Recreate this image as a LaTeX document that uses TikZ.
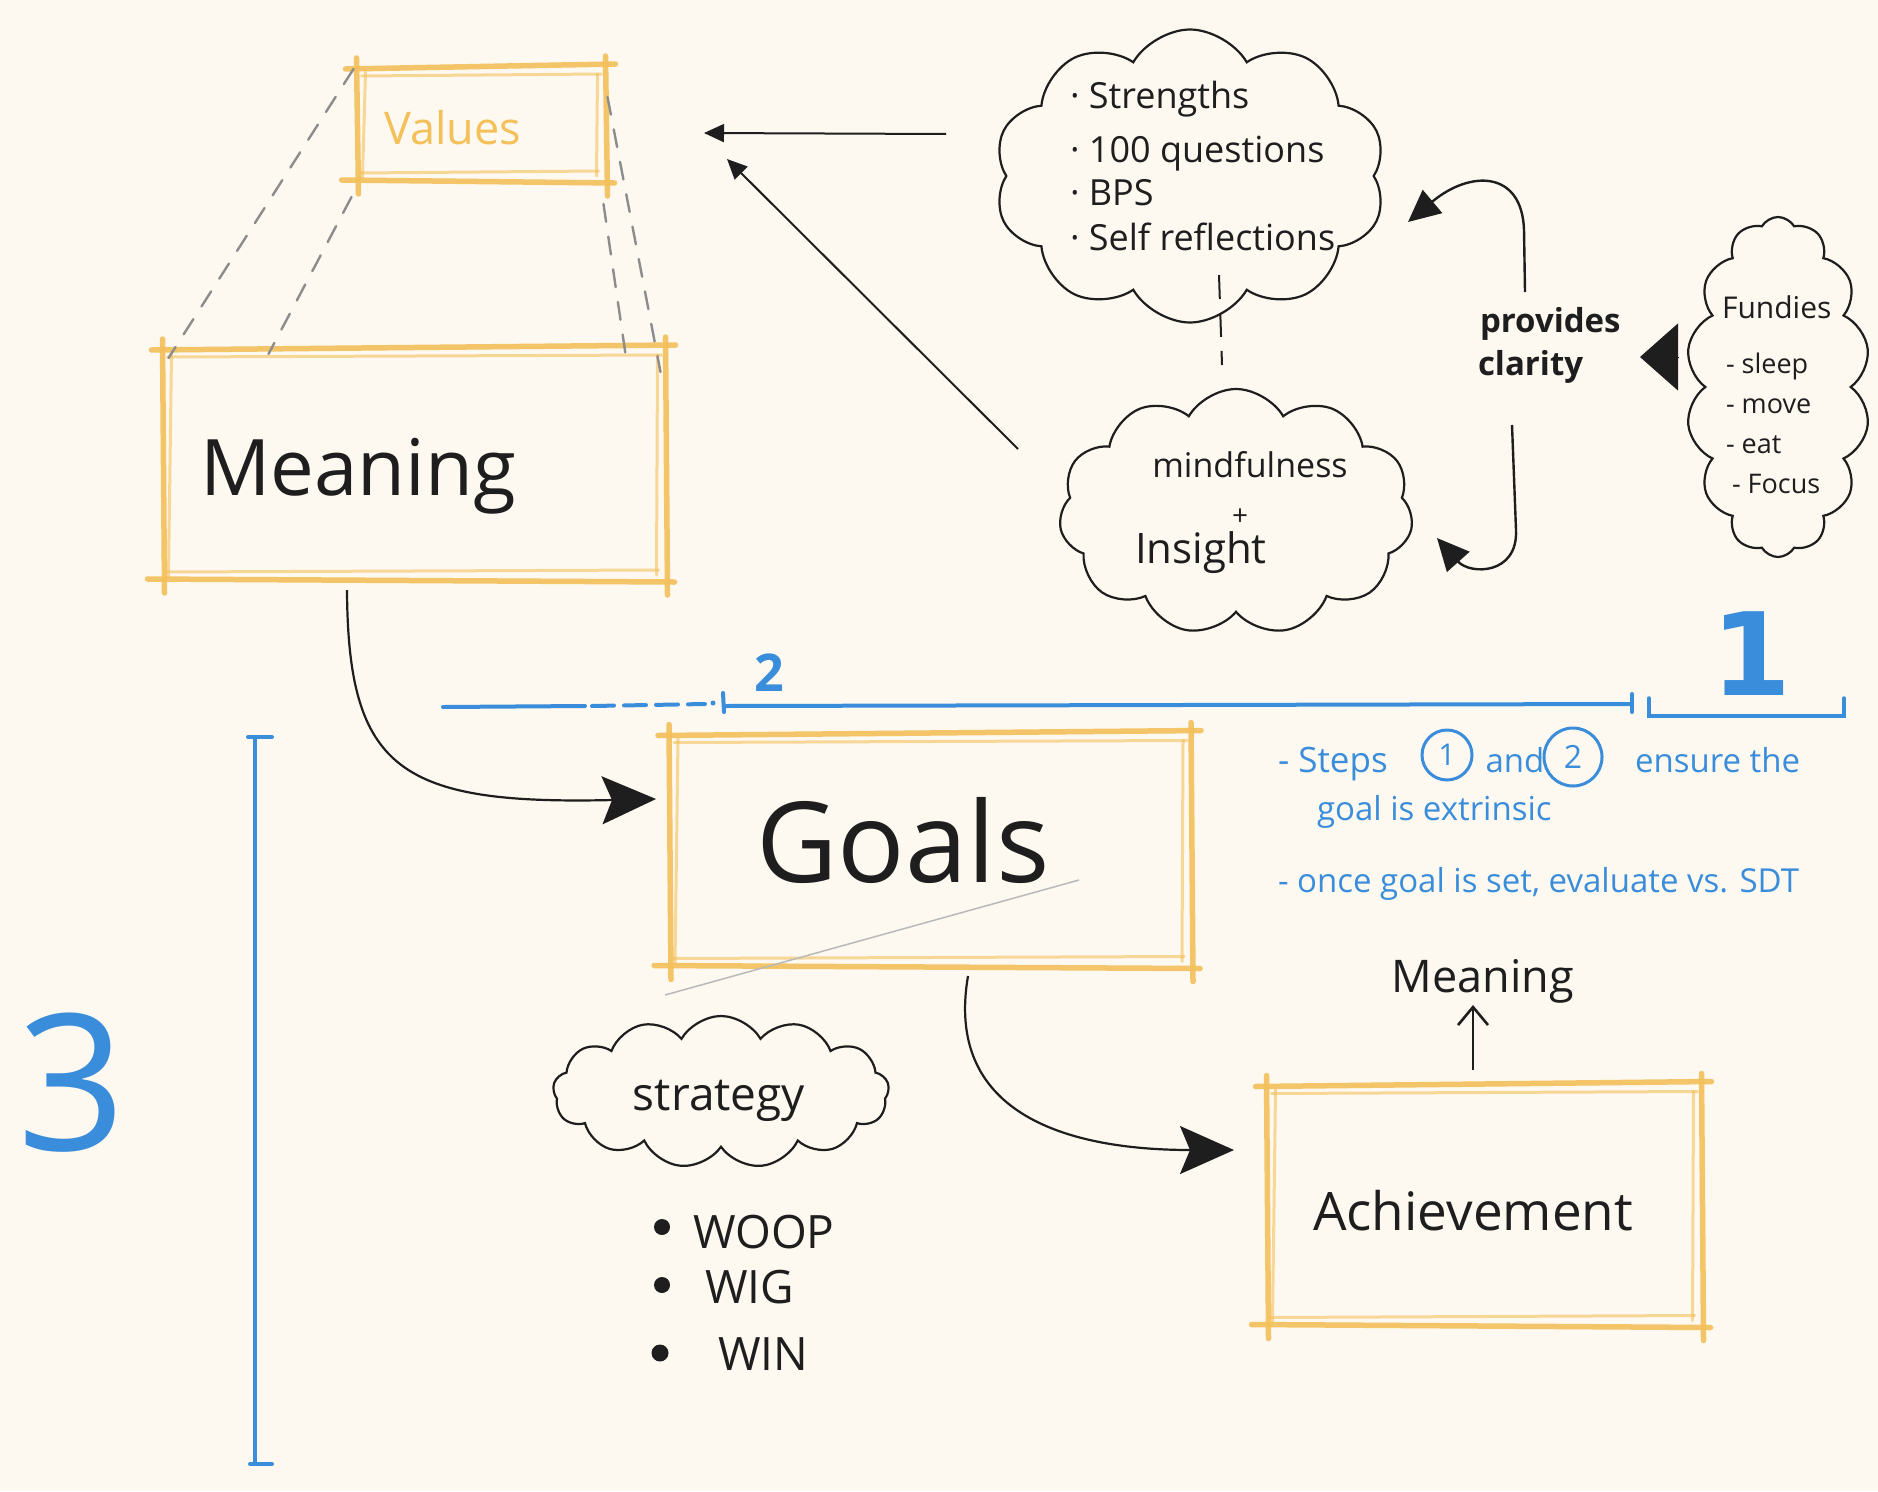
\documentclass[tikz,border=0pt]{standalone}
\usepackage{fontspec}
\setmainfont{Open Sans}
\newfontfamily\dejavu{DejaVu Sans}
\usetikzlibrary{shapes.symbols,arrows.meta,calc}
\definecolor{bg}{HTML}{FDF9F0}
\definecolor{ink}{HTML}{1E1E1E}
\definecolor{sketchy}{HTML}{F3C05A}
\definecolor{penblue}{HTML}{3A8DDB}
\definecolor{guide}{HTML}{8C8C8C}
\newcommand\fsz[2]{\fontsize{#1}{#2}\selectfont}
\newcommand\sketchframe[1]{%
 \draw[skA] ($(#1.north west)+(-10,3)$) -- ($(#1.north east)+(9,-2)$);
 \draw[skB] ($(#1.north west)+(6,10)$) -- ($(#1.north east)+(-5,8)$);
 \draw[skA] ($(#1.south west)+(-14,-2)$) -- ($(#1.south east)+(8,1)$);
 \draw[skB] ($(#1.south west)+(4,-9)$) -- ($(#1.south east)+(-8,-11)$);
 \draw[skA] ($(#1.north west)+(1,-8)$) -- ($(#1.south west)+(3,12)$);
 \draw[skB] ($(#1.north west)+(10,6)$) -- ($(#1.south west)+(7,-4)$);
 \draw[skA] ($(#1.north east)+(-1,-10)$) -- ($(#1.south east)+(1,14)$);
 \draw[skB] ($(#1.north east)+(-9,8)$) -- ($(#1.south east)+(-10,-6)$);
}
\tikzset{
 every node/.style={inner sep=0pt, outer sep=0pt},
 boxnode/.style={draw=none, rectangle},
 skA/.style={draw=sketchy, line width=5.5pt, line cap=round, opacity=0.9},
 skB/.style={draw=sketchy, line width=3pt, line cap=round, opacity=0.6},
 thought/.style={cloud, cloud ignores aspect, cloud puff arc=120, draw=ink, line width=2.2pt},
 hand/.style={text=ink},
 bluehand/.style={text=penblue},
 guideline/.style={draw=guide, line width=2.4pt, dash pattern=on 18pt off 15pt, line cap=round},
 thinarr/.style={draw=ink, line width=2pt, -{Triangle[length=20pt,width=18pt]}},
 bigarr/.style={draw=ink, line width=2.2pt, -{Stealth[length=54pt,width=48pt,inset=10pt]}},
 midarr/.style={draw=ink, line width=2.4pt, -{Triangle[length=32pt,width=30pt]}},
 bigtri/.style={draw=ink, line width=1pt, -{Triangle[length=38pt,width=67pt]}},
 uparr/.style={draw=ink, line width=2.6pt, -{Straight Barb[length=18pt,width=30pt]}},
 blueline/.style={draw=penblue, line width=4pt, line cap=round},
 bluecirc/.style={circle, draw=penblue, line width=3pt, text=penblue},
}
\begin{document}
\begin{tikzpicture}[x=1pt,y=-1pt]
\fill[bg] (0,0) rectangle (1878,1491);
\useasboundingbox (0,0) rectangle (1878,1491);

% ---- boxes ----
\node[boxnode, minimum width=251pt, minimum height=116pt] (values) at (481,124) {};
\node[boxnode, minimum width=505pt, minimum height=234pt] (meaningbox) at (414,464) {};
\node[boxnode, minimum width=524pt, minimum height=235pt] (goals) at (930,850) {};
\node[boxnode, minimum width=437pt, minimum height=243pt] (achieve) at (1484,1205) {};
\sketchframe{values}
\sketchframe{meaningbox}
\sketchframe{goals}
\sketchframe{achieve}

\node[text=sketchy, anchor=base, font=\fsz{45}{54}] (valuestxt) at (453,144) {Values};
\node[hand, anchor=base, font=\fsz{78}{90}] (meaningtxt) at (358,495) {Meaning};
\node[hand, anchor=base, font=\fsz{112}{130}] (goalstxt) at (903,882) {Goals};
\node[hand, anchor=base, font=\fsz{53}{64}] (achievetxt) at (1473,1230) {Achievement};
\node[hand, anchor=base, font=\fsz{45}{54}] (meaningsmall) at (1483,992) {Meaning};

% ---- guide lines Values -> Meaning ----
\draw[guideline] ($(values.north west)+(-2,3)$) -- ($(meaningbox.north west)+(7,11)$);
\draw[guideline] ($(values.south west)+(-4,15)$) -- ($(meaningbox.north west)+(107,7)$);
\draw[guideline] ($(values.south east)+(-3,22)$) -- ($(meaningbox.north east)+(-41,7)$);
\draw[guideline] ($(values.north east)+(1,31)$) -- ($(meaningbox.north east)+(-6,25)$);

% ---- clouds ----
\node[thought, cloud puffs=10, minimum width=392pt, minimum height=293pt] (strengths) at (1190,176) {};
\node[thought, cloud puffs=11, minimum width=354pt, minimum height=246pt] (mind) at (1236,512) {};
\node[thought, cloud puffs=14, minimum width=184pt, minimum height=340pt] (fundies) at (1778,387) {};
\node[thought, cloud puffs=13, minimum width=336pt, minimum height=152pt] (strategy) at (721,1092) {};

\node[hand, anchor=base west, font=\fsz{36}{44}] (s1) at (1070,108) {· Strengths};
\node[hand, anchor=base west, font=\fsz{36}{44}] (s2) at (1070,162) {· 100 questions};
\node[hand, anchor=base west, font=\fsz{36}{44}] (s3) at (1070,205) {· BPS};
\node[hand, anchor=base west, font=\fsz{36}{44}] (s4) at (1070,250) {· Self reflections};

\node[hand, anchor=base, font=\fsz{34}{40}] (m1) at (1250,477) {mindfulness};
\node[hand, font=\fsz{28}{34}] (m2) at (1240,517) {+};
\node[hand, anchor=base west, font=\fsz{42}{50}] (m3) at (1135,563) {Insight};

\node[hand, anchor=base west, font=\fsz{30}{36}] (f0) at (1722,318) {Fundies};
\node[hand, anchor=base west, font=\fsz{27}{34}] (f1) at (1726,373) {- sleep};
\node[hand, anchor=base west, font=\fsz{27}{34}] (f2) at (1726,413) {- move};
\node[hand, anchor=base west, font=\fsz{27}{34}] (f3) at (1726,453) {- eat};
\node[hand, anchor=base west, font=\fsz{27}{34}] (f4) at (1732,493) {- Focus};

\node[hand, anchor=base west, font=\fsz{33}{40}\bfseries] (provides) at (1480,332) {provides};
\node[hand, anchor=base west, font=\fsz{33}{40}\bfseries] (clarity) at (1478,375) {clarity};

\node[hand, anchor=base, font=\fsz{46}{54}] (strat) at (719,1110) {strategy};
\node[hand, anchor=base west, font=\fsz{46}{54}] (woop) at (693,1248) {WOOP};
\node[hand, anchor=base west, font=\fsz{46}{54}] (wig) at (705,1303) {WIG};
\node[hand, anchor=base west, font=\fsz{46}{54}] (win) at (718,1370) {WIN};
\fill[ink] (662,1227) circle (8);
\fill[ink] (662,1285) circle (8);
\fill[ink] (660,1353) circle (8.5);

% ---- connectors ----
\draw[thinarr] ($(strengths.center)+(-244,-42)$) -- ($(values.center)+(223,9)$);
\draw[thinarr] ($(mind.center)+(-218,-63)$) -- ($(values.center)+(246,35)$);
\draw[bigarr] ($(meaningbox.center)+(-67,126)$) .. controls +(1,180) and +(-256,6) .. ($(goals.center)+(-274,-51)$);
\draw[bigarr] ($(goals.center)+(38,126)$) .. controls +(-23,134) and +(-174,0) .. ($(achieve.center)+(-250,-55)$);
\draw[midarr] ($(provides.base west)+(45,-40)$) -- ++(-1,-62) .. controls +(-2,-60) and +(62,-52) .. ($(strengths.center)+(218,46)$);
\draw[midarr] ($(clarity.base west)+(34,50)$) -- ++(4,105) .. controls +(2,45) and +(33,37) .. ($(mind.center)+(201,26)$);
\draw[bigtri] ($(fundies.center)+(-100,-30)$) -- ($(fundies.center)+(-138,-30)$);
\draw[draw=ink, line width=2pt, dash pattern=on 24pt off 14pt] ($(strengths.center)+(29,99)$) -- ($(mind.center)+(-14,-147)$);
\draw[uparr] ($(achieve.center)+(-11,-135)$) -- ($(meaningsmall.base)+(-10,13)$);
\draw[draw=gray!55, line width=1.5pt] ($(goals.center)+(-265,145)$) -- ($(goals.center)+(149,30)$);

% ---- blue annotations ----
\draw[blueline] (443,707) -- (585,706);
\draw[blueline, dash pattern=on 22pt off 10pt] (592,706) -- (705,704);
\fill[penblue] (713,703) circle (2.5);
\draw[blueline] (723,693) -- (724,712);
\draw[blueline] (724,706) -- (1632,704);
\draw[blueline] (1632,694) -- (1632,712);
\node[text=penblue, anchor=base, font=\fsz{52}{60}\bfseries] (two) at (769,691) {2};
\draw[blueline, line width=3.5pt] (1649,698) -- (1649,716) -- (1844,716) -- (1844,698);
\node[text=penblue, anchor=base, font=\dejavu\fsz{115}{130}\bfseries] (one) at (1751,695) {1};
\draw[blueline] (255,737) -- (255,1464);
\draw[blueline] (248,737) -- (272,737);
\draw[blueline] (250,1464) -- (272,1464);
\node[text=penblue, anchor=base, font=\fsz{190}{210}] (three) at (72,1150) {3};

\node[bluehand, anchor=base west, font=\fsz{35}{40}] (n1a) at (1278,772) {- Steps};
\node[bluecirc, minimum size=50pt, font=\fsz{30}{36}] (c1) at (1447,755) {1};
\node[bluehand, anchor=base, font=\fsz{33}{40}] (n1b) at (1515,772) {and};
\node[bluecirc, minimum size=58pt, font=\fsz{32}{36}] (c2) at (1573,757) {2};
\node[bluehand, anchor=base west, font=\fsz{33}{40}] (n1c) at (1635,772) {ensure the};
\node[bluehand, anchor=base west, font=\fsz{33}{40}] (n2) at (1317,820) {goal is extrinsic};
\node[bluehand, anchor=base west, font=\fsz{33}{40}] (n3) at (1278,892) {- once goal is set, evaluate vs. SDT};
\end{tikzpicture}
\end{document}
